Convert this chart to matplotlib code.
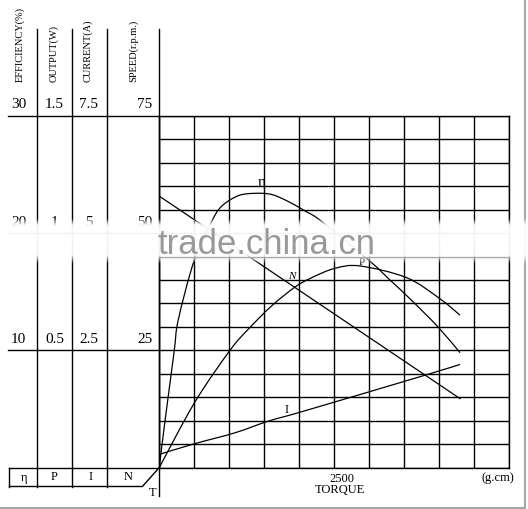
import numpy as np
import matplotlib
matplotlib.use("Agg")
import matplotlib.pyplot as plt
from matplotlib import transforms
from matplotlib.lines import Line2D
from matplotlib.path import Path
from matplotlib.patches import PathPatch

plt.rcParams['font.family'] = ['Liberation Serif', 'DejaVu Serif']

# Data (torque in g.cm)
torque_eff = [0, 67, 210, 271, 500, 749, 891, 1129, 1367, 1606, 1843, 2081, 2320, 3010, 3296, 3581, 3981, 4296]
efficiency = [0, 3.3, 9.8, 12.6, 17.7, 21.0, 22.3, 23.2, 23.4, 23.3, 22.7, 21.9, 21.0, 17.6, 16.0, 14.4, 12.0, 9.8]

torque_out = [0, 510, 1010, 1271, 1606, 1939, 2177, 2510, 2867, 3534, 4010, 4296]
output = [0, 0.28, 0.50, 0.59, 0.69, 0.77, 0.81, 0.85, 0.86, 0.81, 0.72, 0.65]

torque_cur = [0, 510, 1080, 1560, 2080, 3820, 4296]
current = [0.28, 0.51, 0.74, 0.99, 1.21, 1.98, 2.20]

torque_spd = [0, 4296]
speed = [57.9, 14.7]

eff_ticks = [10, 20, 30]
out_ticks = [0.5, 1, 1.5]
cur_ticks = [2.5, 5, 7.5]
spd_ticks = [25, 50, 75]
eff_labels = ["10", "20", "30"]
out_labels = ["0.5", "1", "1.5"]
cur_labels = ["2.5", "5", "7.5"]
spd_labels = ["25", "50", "75"]

W, H = 528, 509
def fx(px):
    return px / W
def fy(py):
    return 1 - py / H


def smooth_curve(a, xs, ys, lw=0.9):
    # draw a smooth line through the read points (cubic bezier segments)
    pts = np.column_stack([xs, ys]).astype(float)
    verts = [pts[0]]
    codes = [Path.MOVETO]
    n = len(pts)
    for i in range(n - 1):
        p0 = pts[i - 1] if i > 0 else pts[i]
        p1, p2 = pts[i], pts[i + 1]
        p3 = pts[i + 2] if i + 2 < n else pts[i + 1]
        verts += [p1 + (p2 - p0) / 6, p2 - (p3 - p1) / 6, p2]
        codes += [Path.CURVE4] * 3
    a.add_patch(PathPatch(Path(verts, codes), fill=False, edgecolor='black', lw=lw))


fig = plt.figure(figsize=(5.28, 5.09), dpi=100)
ax = fig.add_axes([fx(159.3), fy(467.5), 350 / W, 351.5 / H])
ax.set_xlim(0, 5000)
ax.set_ylim(0, 30)
ax.set_xticks(np.arange(0, 5001, 500))
ax.set_yticks(np.arange(0, 31, 2))
ax.grid(True, color='black', lw=1)
ax.tick_params(length=0, labelbottom=False, labelleft=False)
for s in ax.spines.values():
    s.set_color('black')
    s.set_linewidth(1)

ax_out = ax.twinx()
ax_out.set_ylim(0, 1.5)
ax_cur = ax.twinx()
ax_cur.set_ylim(0, 7.5)
ax_spd = ax.twinx()
ax_spd.set_ylim(0, 75)
for a in (ax_out, ax_cur, ax_spd):
    a.axis('off')

smooth_curve(ax, torque_eff, efficiency)
smooth_curve(ax_out, torque_out, output)
smooth_curve(ax_cur, torque_cur, current)
ax_spd.plot(torque_spd, speed, color='black', lw=0.9)

# curve labels
ax.text(1463, 24.3, "η", fontsize=11, ha='center', va='center')
ax_out.text(2891, 0.875, "P", fontsize=8, ha='center', va='center')
ax_spd.text(1891, 40.8, "N", fontsize=8, style='italic', ha='center', va='center')
ax_cur.text(1820, 1.23, "I", fontsize=9, ha='center', va='center')

# left scale panel
blend = transforms.blended_transform_factory(fig.transFigure, ax.transData)
for v in eff_ticks:
    ax.plot([fx(8), fx(159.3)], [v, v], color='black', lw=1, transform=blend, clip_on=False)

scales = [
    (ax, eff_ticks, eff_labels, 18.5, 'center'),
    (ax_out, out_ticks, out_labels, 54.5, 'center'),
    (ax_cur, cur_ticks, cur_labels, 89, 'center'),
    (ax_spd, spd_ticks, spd_labels, 152.5, 'right'),
]
for a, ticks, labels, xpix, ha in scales:
    tr = transforms.blended_transform_factory(fig.transFigure, a.transData)
    tr = transforms.offset_copy(tr, fig=fig, y=11, units='dots')
    for v, lab in zip(ticks, labels):
        fig.text(fx(xpix), v, lab, transform=tr, fontsize=11, ha=ha, va='center')

titles = [("EFFICIENCY(%)", 20), ("OUTPUT(W)", 54), ("CURRENT(A)", 88), ("SPEED(r.p.m.)", 133)]
for t, xpix in titles:
    fig.text(fx(xpix), fy(82), t, rotation=90, fontsize=7.5, ha='center', va='bottom')


def fline(xs, ys, color='black', lw=1):
    fig.add_artist(Line2D([fx(x) for x in xs], [fy(y) for y in ys],
                          transform=fig.transFigure, color=color, lw=lw))


for xpix in (37, 72, 107):
    fline([xpix, xpix], [29, 486.5])
fline([159.3, 159.3], [29, 496])
# bottom symbol box
fline([9.4, 159.3], [467.5, 467.5])
fline([9.4, 9.4], [467.5, 486.5])
fline([9.4, 142.4, 159.3], [486.5, 486.5, 467.5])
for sym, xpix in (("η", 23.6), ("P", 54.5), ("I", 91), ("N", 128)):
    fig.text(fx(xpix), fy(477.5), sym, fontsize=9, ha='center', va='center')
fig.text(fx(153), fy(493), "T", fontsize=9, ha='center', va='center')

# torque axis text
btr = transforms.blended_transform_factory(ax.transData, fig.transFigure)
btr = transforms.offset_copy(btr, fig=fig, x=8, units='dots')
fig.text(2500, fy(478.5), "2500", transform=btr, fontsize=9, ha='center', va='center')
fig.text(fx(340), fy(490), "TORQUE", fontsize=9, ha='center', va='center')
fig.text(fx(498), fy(478), "(g.cm)", fontsize=9, ha='center', va='center')

# image border
fline([525, 525, 0], [0, 507.5, 507.5], color='#a8a8a8', lw=1.5)

# watermark band (row 0 = bottom of band)
band = fig.add_axes([0, fy(266), 1, 48 / H], zorder=5)
band.axis('off')
yy = np.linspace(266, 218, 97)
alpha = np.clip(np.minimum((yy - 218) / 7, (264 - yy) / 9), 0, 1) * 0.95
rgba = np.ones((len(yy), 2, 4))
rgba[:, :, 3] = alpha[:, None]
band.imshow(rgba, aspect='auto', extent=(0, 1, 0, 1), origin='lower',
            interpolation='bilinear')
band.set_xlim(0, 1)
band.set_ylim(0, 1)
fig.text(fx(157), fy(254), "trade.china.cn", fontsize=25, color='#999999',
         family='Liberation Sans', ha='left', va='baseline', zorder=6)

fig.savefig("out.png", dpi=100)
